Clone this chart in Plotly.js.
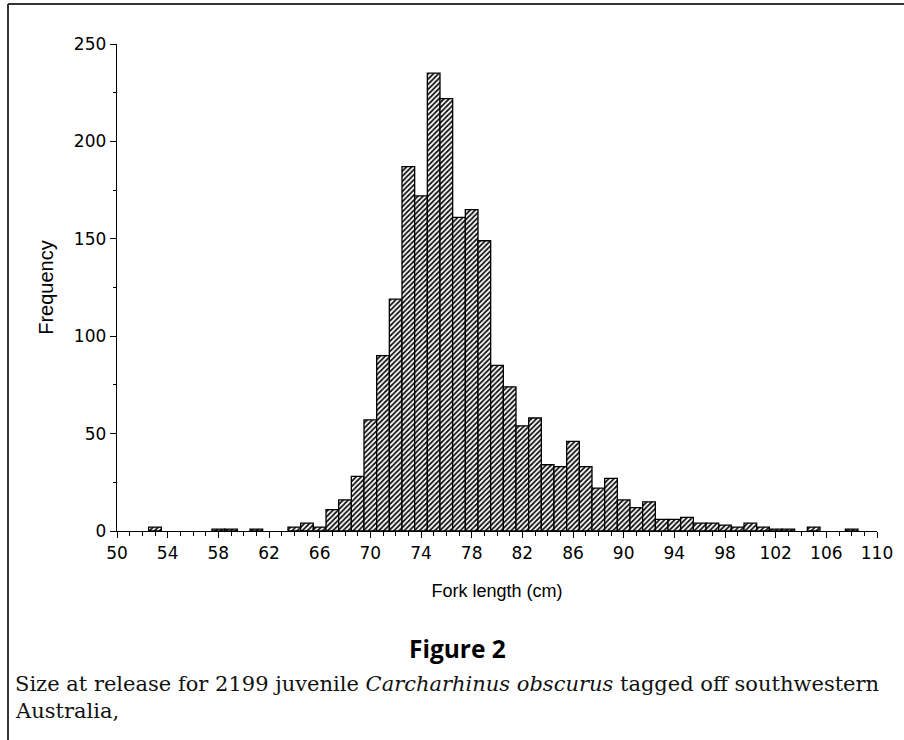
<!DOCTYPE html>
<html>
<head>
<meta charset="utf-8">
<script src="https://cdn.plot.ly/plotly-3.0.1.min.js"></script>
<style>
html,body{margin:0;padding:0;background:#fff;}
#chart{width:904px;height:740px;}
</style>
</head>
<body>
<div id="chart"></div>
<script>
// Fork length bins (cm) with non-zero counts
const forkLength = [53, 58, 59, 61, 64, 65, 66, 67, 68, 69, 70, 71, 72, 73, 74, 75, 76, 77, 78, 79,
  80, 81, 82, 83, 84, 85, 86, 87, 88, 89, 90, 91, 92, 93, 94, 95, 96, 97, 98, 99,
  100, 101, 102, 103, 105, 108];
const frequency = [2, 1, 1, 1, 2, 4, 2, 11, 16, 28, 57, 90, 119, 187, 172, 235, 222, 161, 165, 149,
  85, 74, 54, 58, 34, 33, 46, 33, 22, 27, 16, 12, 15, 6, 6, 7, 4, 4, 3, 2,
  4, 2, 1, 1, 2, 1];
const xTickVals = [50, 54, 58, 62, 66, 70, 74, 78, 82, 86, 90, 94, 98, 102, 106, 110];
const yTickVals = [0, 50, 100, 150, 200, 250];
const xTitle = "Fork length (cm)";
const yTitle = "Frequency";
const figLabel = "Figure 2";
const captionLine1 = "Size at release for 2199 juvenile <i>Carcharhinus obscurus</i> tagged off southwestern";
const captionLine2 = "Australia,";

const W = 904, H = 740;
const M = {l: 117, r: 27, t: 44, b: 209};
const pw = W - M.l - M.r, ph = H - M.t - M.b;
const px = v => (v - M.l) / pw;
const py = v => (H - M.b - v) / ph;

const trace = {
  type: 'bar',
  x: forkLength,
  y: frequency,
  width: 1,
  marker: {
    color: 'white',
    line: {color: 'black', width: 1.3},
    pattern: {shape: '/', size: 3.6, solidity: 0.5, fgcolor: '#111', bgcolor: 'white', fillmode: 'replace'}
  },
  hoverinfo: 'skip'
};

const axisFont = {family: 'DejaVu Sans, sans-serif', size: 17, color: 'black'};

const layout = {
  width: W, height: H,
  margin: M,
  paper_bgcolor: 'white',
  plot_bgcolor: 'white',
  showlegend: false,
  bargap: 0,
  xaxis: {
    range: [50, 110],
    tickmode: 'array',
    tickvals: xTickVals,
    ticktext: xTickVals.map(String),
    ticks: 'outside', ticklen: 6, tickwidth: 1, tickcolor: 'black',
    minor: {dtick: 1, tick0: 50, ticks: 'outside', ticklen: 4, tickwidth: 1, tickcolor: 'black', showgrid: false},
    showline: true, linecolor: 'black', linewidth: 1.3,
    showgrid: false, zeroline: false,
    tickfont: axisFont,
    title: {text: xTitle, font: {family: 'Liberation Sans, Arial, sans-serif', size: 18, color: 'black'}, standoff: 22}
  },
  yaxis: {
    range: [0, 250],
    tickmode: 'array',
    tickvals: yTickVals,
    ticks: 'outside', ticklen: 6, tickwidth: 1, tickcolor: 'black',
    minor: {dtick: 25, tick0: 0, ticks: 'outside', ticklen: 3, tickwidth: 1, tickcolor: 'black', showgrid: false},
    showline: true, linecolor: 'black', linewidth: 1.3,
    showgrid: false, zeroline: false,
    tickfont: axisFont,
    title: {text: yTitle, font: {family: 'Liberation Sans, Arial, sans-serif', size: 20, color: 'black'}, standoff: 14}
  },
  shapes: [
    {type: 'line', xref: 'paper', yref: 'paper', x0: px(8), x1: px(8), y0: py(4), y1: py(742), line: {color: '#333', width: 2}},
    {type: 'line', xref: 'paper', yref: 'paper', x0: px(8), x1: px(906), y0: py(4), y1: py(4), line: {color: '#333', width: 2}}
  ],
  annotations: [
    {xref: 'paper', yref: 'paper', x: px(457), y: py(648), xanchor: 'center', yanchor: 'middle', showarrow: false,
     text: '<b>' + figLabel + '</b>', font: {family: 'Open Sans, Noto Sans, sans-serif', size: 24.5, color: 'black'}},
    {xref: 'paper', yref: 'paper', x: px(13), y: py(684), xanchor: 'left', yanchor: 'middle', showarrow: false,
     text: captionLine1, font: {family: 'DejaVu Serif, serif', size: 21, color: '#111'}},
    {xref: 'paper', yref: 'paper', x: px(13), y: py(711), xanchor: 'left', yanchor: 'middle', showarrow: false,
     text: captionLine2, font: {family: 'DejaVu Serif, serif', size: 21, color: '#111'}}
  ]
};

Plotly.newPlot('chart', [trace], layout, {displayModeBar: false, staticPlot: true});
</script>
</body>
</html>
